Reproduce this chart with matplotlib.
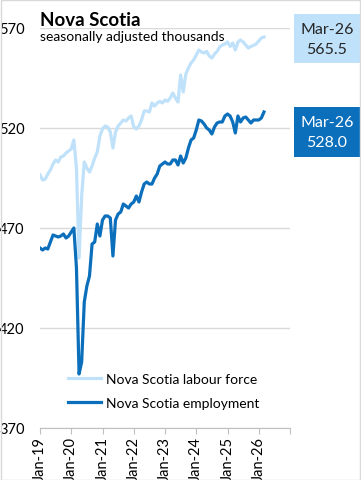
import matplotlib
matplotlib.use("Agg")
import matplotlib.pyplot as plt
from matplotlib.patches import Rectangle

plt.rcParams["font.family"] = ["Lato", "DejaVu Sans"]

# monthly, Jan-19 .. Mar-26 (thousands, seasonally adjusted)
labour_force = [
    496.5, 494, 494.5, 497, 499, 502, 504, 503, 505.5, 506, 507.5, 508.5,
    509.5, 514, 500, 455, 486, 503, 500, 498, 501, 505, 508, 516,
    519.5, 521, 520.5, 518, 510, 518, 521, 522.5, 524, 523.5, 525, 526,
    520.5, 519.5, 521, 524, 528.5, 528.5, 528, 532.5, 531, 532.5, 533.3, 532.5,
    534, 533.3, 535, 537.5, 535, 533, 546.5, 538, 547, 550, 552.5, 554,
    556.5, 559, 558, 557.5, 558.3, 556, 555, 557, 558.3, 560.5, 561.5, 562,
    563, 560.8, 562.5, 559, 563, 564, 563, 561.5, 560, 560.8, 561.3, 562,
    563.5, 565, 565.5,
]
employment = [
    460, 459, 460, 459.5, 463, 466.5, 466, 465.5, 466, 467, 465, 466,
    468, 470, 450, 397, 403, 433, 441, 446, 462, 463, 472, 466,
    474, 476, 476, 475, 456, 474, 477, 478, 482, 481, 480, 482,
    483, 486, 483, 488, 492, 493, 492, 492, 495, 497, 501, 502,
    503, 502, 502, 504, 504, 501.5, 506, 502.5, 505, 510, 514, 515,
    519, 524, 523.5, 522, 520, 519, 517, 520.5, 522.5, 523, 523, 526,
    527, 526, 523, 517.5, 526, 523, 525, 525.5, 524, 522.5, 524, 524,
    524, 525, 528.0,
]
tick_labels = ["Jan-19", "Jan-20", "Jan-21", "Jan-22", "Jan-23", "Jan-24", "Jan-25", "Jan-26"]
y_ticks = [370, 420, 470, 520, 570]
last_label = "Mar-26"

LIGHT = "#BFE1FA"
DARK = "#0B6FBC"
GRID = "#D9D9D9"

W, H = 361, 481
fig = plt.figure(figsize=(W / 100, H / 100), dpi=100)
ax = fig.add_axes([40 / W, 1 - 429 / H, 250 / W, 400 / H])

months = list(range(len(employment)))
ax.plot(months, labour_force, color=LIGHT, lw=2.3, label="Nova Scotia labour force",
        solid_joinstyle="round")
ax.plot(months, employment, color=DARK, lw=2.3, label="Nova Scotia employment",
        solid_joinstyle="round")

ax.set_xlim(0, 96)
ax.set_ylim(370, 570)
ax.set_yticks(y_ticks)
ax.set_yticklabels([str(v) for v in y_ticks], fontsize=10.5)
ax.tick_params(axis="y", length=0, pad=11)
ax.set_xticks(list(range(0, 97, 12)))
ax.set_xticklabels(tick_labels + [""], rotation=90, fontsize=10.5)
ax.tick_params(axis="x", length=4, color="#BFBFBF", pad=2)
ax.grid(axis="y", color=GRID, lw=1)
ax.set_axisbelow(True)
for s in ["top", "right", "left"]:
    ax.spines[s].set_visible(False)
ax.spines["bottom"].set_color("#BFBFBF")

fig.text(40 / W, 1 - 20 / H, "Nova Scotia", fontsize=13.5, fontweight="bold", va="center")
fig.text(40 / W, 1 - 37 / H, "seasonally adjusted thousands", fontsize=10, va="center")

fig.legend(loc="upper left", bbox_to_anchor=(68 / W, 1 - 374 / H), frameon=False,
           fontsize=10, handlelength=2.4, handletextpad=0.3, labelspacing=0.85,
           borderpad=0, borderaxespad=0)

# end-value boxes
for top, bottom, face, txt_col, val in [(15, 64, LIGHT, "#262626", labour_force[-1]),
                                        (108, 158, DARK, "white", employment[-1])]:
    fig.patches.append(Rectangle((294 / W, 1 - bottom / H), 66 / W, (bottom - top) / H,
                                 transform=fig.transFigure, facecolor=face, edgecolor="none"))
    mid = (top + bottom) / 2
    fig.text(327 / W, 1 - (mid - 10) / H, last_label, ha="center", va="center",
             fontsize=11.5, color=txt_col)
    fig.text(327 / W, 1 - (mid + 10) / H, f"{val:.1f}", ha="center", va="center",
             fontsize=11.5, color=txt_col)

fig.patches.append(Rectangle((0.5 / W, 0.5 / H), 1 - 1.5 / W, 1 - 1.5 / H,
                             transform=fig.transFigure, facecolor="none",
                             edgecolor="#D9D9D9", lw=1))

fig.savefig("out.png", dpi=100)
